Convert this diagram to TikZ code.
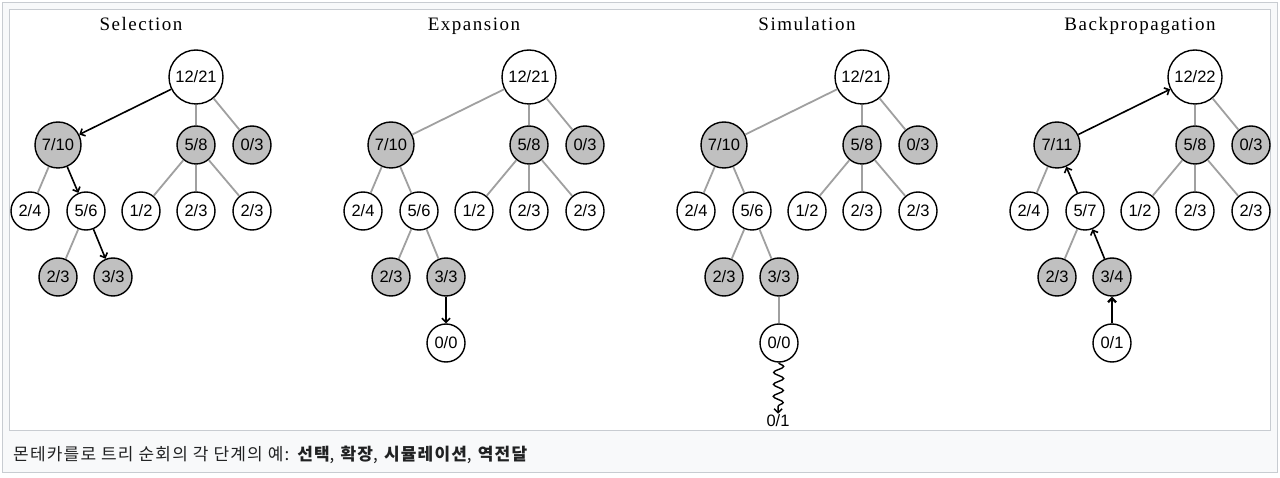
\documentclass[tikz,border=0pt]{standalone}
\usepackage{fontspec}
\setmainfont{Liberation Sans}
\newfontfamily\titlefont[LetterSpace=8]{Liberation Serif}
\newfontfamily\krfont[LetterSpace=7]{Noto Sans CJK KR}
\usetikzlibrary{arrows.meta,decorations.pathmorphing}
\definecolor{framegray}{HTML}{C8CCD1}
\definecolor{capbg}{HTML}{F8F9FA}
\definecolor{nodegray}{HTML}{C0C0C0}
\definecolor{edgegray}{HTML}{A0A0A0}
\definecolor{captext}{HTML}{202122}
\begin{document}
\begin{tikzpicture}[x=1pt,y=-1pt,
  tn/.style={circle,draw=black,line width=1.4pt,fill=white,minimum size=38pt,inner sep=0pt,font=\fontsize{16.5}{16.5}\selectfont},
  gn/.style={tn,fill=nodegray},
  big/.style={minimum size=54pt},
  mid/.style={minimum size=46pt},
  ge/.style={draw=edgegray,line width=1.8pt},
  ae/.style={draw=black,line width=1.6pt,-{Straight Barb[length=4pt,width=8pt]}},
  ttl/.style={anchor=base,font=\titlefont\fontsize{19}{19}\selectfont}
]
\useasboundingbox (0,0) rectangle (1280,478);
\draw[framegray,fill=capbg,line width=1pt] (2.5,2.5) rectangle (1277.5,472.5);
\draw[framegray,fill=white,line width=1pt] (9.5,9.5) rectangle (1270.5,430.5);

% ---------- Selection ----------
\node[ttl] (s-t) at (141,31) {Selection};
\node[tn,big] (s-r) at (196,77) {12/21};
\node[gn,mid] (s-a) at (58,145) {7/10};
\node[gn] (s-b) at (196,145) {5/8};
\node[gn] (s-c) at (252,145) {0/3};
\node[tn] (s-a1) at (30,211) {2/4};
\node[tn] (s-a2) at (86,211) {5/6};
\node[tn] (s-b1) at (141,211) {1/2};
\node[tn] (s-b2) at (196,211) {2/3};
\node[tn] (s-b3) at (252,211) {2/3};
\node[gn] (s-d1) at (58,277) {2/3};
\node[gn] (s-d2) at (113,277) {3/3};
\draw[ae] (s-r) -- (s-a);
\draw[ge] (s-r) -- (s-b);
\draw[ge] (s-r) -- (s-c);
\draw[ge] (s-a) -- (s-a1);
\draw[ae] (s-a) -- (s-a2);
\draw[ge] (s-b) -- (s-b1);
\draw[ge] (s-b) -- (s-b2);
\draw[ge] (s-b) -- (s-b3);
\draw[ge] (s-a2) -- (s-d1);
\draw[ae] (s-a2) -- (s-d2);

% ---------- Expansion ----------
\begin{scope}[xshift=333pt]
\node[ttl] (e-t) at (141,31) {Expansion};
\node[tn,big] (e-r) at (196,77) {12/21};
\node[gn,mid] (e-a) at (58,145) {7/10};
\node[gn] (e-b) at (196,145) {5/8};
\node[gn] (e-c) at (252,145) {0/3};
\node[tn] (e-a1) at (30,211) {2/4};
\node[tn] (e-a2) at (86,211) {5/6};
\node[tn] (e-b1) at (141,211) {1/2};
\node[tn] (e-b2) at (196,211) {2/3};
\node[tn] (e-b3) at (252,211) {2/3};
\node[gn] (e-d1) at (58,277) {2/3};
\node[gn] (e-d2) at (113,277) {3/3};
\node[tn] (e-n) at (113,343) {0/0};
\draw[ge] (e-r) -- (e-a);
\draw[ge] (e-r) -- (e-b);
\draw[ge] (e-r) -- (e-c);
\draw[ge] (e-a) -- (e-a1);
\draw[ge] (e-a) -- (e-a2);
\draw[ge] (e-b) -- (e-b1);
\draw[ge] (e-b) -- (e-b2);
\draw[ge] (e-b) -- (e-b3);
\draw[ge] (e-a2) -- (e-d1);
\draw[ge] (e-a2) -- (e-d2);
\draw[ae] (e-d2) -- (e-n);
\end{scope}

% ---------- Simulation ----------
\begin{scope}[xshift=666pt]
\node[ttl] (m-t) at (141,31) {Simulation};
\node[tn,big] (m-r) at (196,77) {12/21};
\node[gn,mid] (m-a) at (58,145) {7/10};
\node[gn] (m-b) at (196,145) {5/8};
\node[gn] (m-c) at (252,145) {0/3};
\node[tn] (m-a1) at (30,211) {2/4};
\node[tn] (m-a2) at (86,211) {5/6};
\node[tn] (m-b1) at (141,211) {1/2};
\node[tn] (m-b2) at (196,211) {2/3};
\node[tn] (m-b3) at (252,211) {2/3};
\node[gn] (m-d1) at (58,277) {2/3};
\node[gn] (m-d2) at (113,277) {3/3};
\node[tn] (m-n) at (113,343) {0/0};
\node[inner sep=1pt,font=\fontsize{16.5}{16.5}\selectfont] (m-z) at (112,421) {0/1};
\draw[ge] (m-r) -- (m-a);
\draw[ge] (m-r) -- (m-b);
\draw[ge] (m-r) -- (m-c);
\draw[ge] (m-a) -- (m-a1);
\draw[ge] (m-a) -- (m-a2);
\draw[ge] (m-b) -- (m-b1);
\draw[ge] (m-b) -- (m-b2);
\draw[ge] (m-b) -- (m-b3);
\draw[ge] (m-a2) -- (m-d1);
\draw[ge] (m-a2) -- (m-d2);
\draw[ge] (m-d2) -- (m-n);
\draw[line width=1.4pt,-{Straight Barb[length=4pt,width=8pt]},
  decorate,decoration={snake,amplitude=5pt,segment length=12pt,post length=5pt}]
  (m-n) -- (m-z);
\end{scope}

% ---------- Backpropagation ----------
\begin{scope}[xshift=999pt]
\node[ttl] (b-t) at (141,31) {Backpropagation};
\node[tn,big] (b-r) at (196,77) {12/22};
\node[gn,mid] (b-a) at (58,145) {7/11};
\node[gn] (b-b) at (196,145) {5/8};
\node[gn] (b-c) at (252,145) {0/3};
\node[tn] (b-a1) at (30,211) {2/4};
\node[tn] (b-a2) at (86,211) {5/7};
\node[tn] (b-b1) at (141,211) {1/2};
\node[tn] (b-b2) at (196,211) {2/3};
\node[tn] (b-b3) at (252,211) {2/3};
\node[gn] (b-d1) at (58,277) {2/3};
\node[gn] (b-d2) at (113,277) {3/4};
\node[tn] (b-n) at (113,343) {0/1};
\draw[ae] (b-a) -- (b-r);
\draw[ge] (b-r) -- (b-b);
\draw[ge] (b-r) -- (b-c);
\draw[ge] (b-a) -- (b-a1);
\draw[ae] (b-a2) -- (b-a);
\draw[ge] (b-b) -- (b-b1);
\draw[ge] (b-b) -- (b-b2);
\draw[ge] (b-b) -- (b-b3);
\draw[ge] (b-a2) -- (b-d1);
\draw[ae] (b-d2) -- (b-a2);
\draw[ae,line width=2.2pt] (b-n) -- (b-d2);
\end{scope}

% ---------- caption ----------
\node[anchor=west,inner sep=0pt,text=captext,font=\krfont\fontsize{17}{17}\selectfont] (cap) at (13,455)
  {몬테카를로 트리 순회의 각 단계의 예: \textbf{선택}, \textbf{확장}, \textbf{시뮬레이션}, \textbf{역전달}};
\end{tikzpicture}
\end{document}
